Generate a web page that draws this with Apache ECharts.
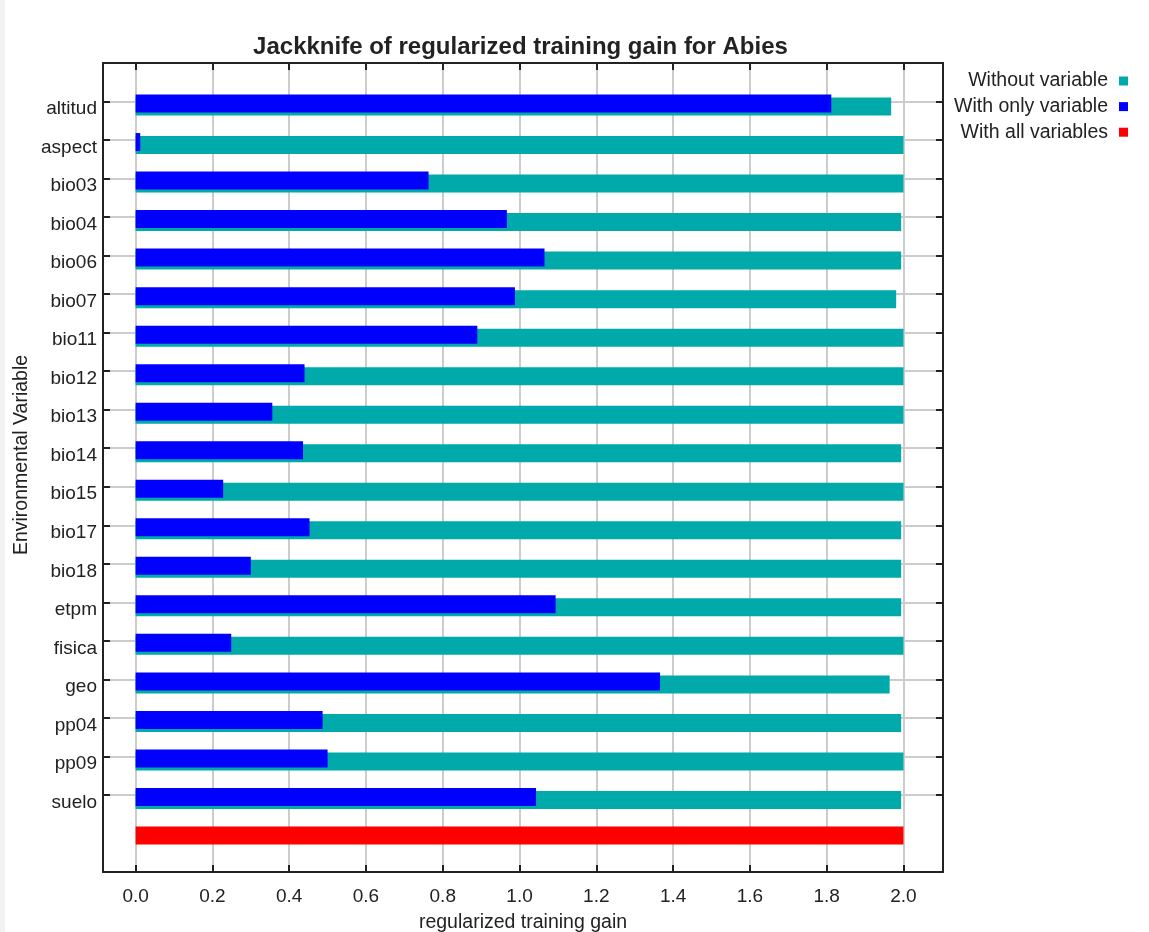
<!DOCTYPE html>
<html>
<head>
<meta charset="utf-8">
<script src="https://cdn.jsdelivr.net/npm/echarts@6/dist/echarts.min.js"></script>
<style>
  html, body { margin: 0; padding: 0; }
  body { background: linear-gradient(to right, #f2f2f2 0, #f2f2f2 5px, #ffffff 5px); }
  #chart { width: 1149px; height: 932px; }
</style>
</head>
<body>
<div id="chart"></div>
<script>
// Environmental variables tested in the jackknife
const variables = ['altitud', 'aspect', 'bio03', 'bio04', 'bio06', 'bio07', 'bio11', 'bio12', 'bio13',
  'bio14', 'bio15', 'bio17', 'bio18', 'etpm', 'fisica', 'geo', 'pp04', 'pp09', 'suelo'];

// Regularized training gain of the model built without each variable
const withoutVariable = [1.968, 2.000, 2.000, 1.994, 1.994, 1.981, 2.000, 2.000, 2.000,
  1.994, 2.000, 1.994, 1.994, 1.994, 2.000, 1.964, 1.994, 2.000, 1.994];

// Regularized training gain of the model built with only each variable
const withOnlyVariable = [1.812, 0.012, 0.763, 0.967, 1.065, 0.988, 0.890, 0.440, 0.356,
  0.436, 0.228, 0.453, 0.300, 1.094, 0.249, 1.366, 0.487, 0.500, 1.043];

// Gain of the full model
const withAllVariables = 2.000;

// Tick labels of the gain axis
const gainTicks = ['0.0', '0.2', '0.4', '0.6', '0.8', '1.0', '1.2', '1.4', '1.6', '1.8', '2.0'];

const seriesNames = ['Without variable', 'With only variable', 'With all variables'];
const colors = { without: '#00aaaa', only: '#0000ff', all: '#ff0000' };

// Row layout: blank edge row, one row per variable, the full-model row, blank edge row
const rows = [''].concat(variables, ['', '']);
const pad = (vals, extra) => ['-'].concat(vals, extra, ['-']);

const gainMin = -0.085, gainMax = 2.103;
const font = 'Liberation Sans, Arial, sans-serif';
const textColor = '#222';
const frameLine = { show: true, onZero: false, lineStyle: { color: '#222', width: 2 } };
const innerTicks = { show: true, inside: true, length: 7, lineStyle: { color: '#222', width: 2 } };
const variableRowOnly = (i) => i >= 1 && i <= variables.length;

// Plot frame; the bars sit in a twin grid whose rows hang slightly below the tick marks
const plot = { left: 103, right: 206, top: 63, bottom: 60 };
const barPlot = { left: 103, right: 206, top: 66.5, bottom: 56.5 };
const fixedGrid = { containLabel: false, outerBoundsMode: 'none' };

const chart = echarts.init(document.getElementById('chart'), null, { renderer: 'canvas' });

chart.setOption({
  animation: false,
  graphic: [{
    type: 'text',
    x: 520.5,
    y: 47,
    style: {
      text: 'Jackknife of regularized training gain for Abies',
      fontFamily: font,
      fontSize: 24,
      fontWeight: 'bold',
      fill: textColor,
      align: 'center',
      verticalAlign: 'middle'
    }
  }],
  legend: {
    data: seriesNames,
    orient: 'vertical',
    right: 16,
    top: 66,
    align: 'right',
    icon: 'rect',
    itemWidth: 9,
    itemHeight: 9,
    itemGap: 5.6,
    textStyle: { fontFamily: font, fontSize: 19.5, lineHeight: 20, color: textColor, padding: [0, 6, 0, 0] }
  },
  grid: [
    Object.assign({}, fixedGrid, plot),
    Object.assign({}, fixedGrid, barPlot)
  ],
  xAxis: [
    {
      type: 'value',
      gridIndex: 0,
      position: 'bottom',
      min: gainMin,
      max: gainMax,
      splitNumber: 11,
      axisLine: frameLine,
      axisTick: innerTicks,
      splitLine: { show: true, lineStyle: { color: '#cccccc', width: 2 } },
      axisLabel: {
        margin: 15,
        fontFamily: font,
        fontSize: 19,
        color: textColor,
        formatter: (v) => {
          const s = (Math.round(v * 10) / 10).toFixed(1);
          return Math.abs(v * 10 - Math.round(v * 10)) < 1e-6 && gainTicks.includes(s) ? s : '';
        }
      },
      name: 'regularized training gain',
      nameLocation: 'middle',
      nameGap: 41,
      nameTextStyle: { fontFamily: font, fontSize: 19.5, color: textColor }
    },
    {
      type: 'value',
      gridIndex: 0,
      position: 'top',
      min: gainMin,
      max: gainMax,
      splitNumber: 11,
      axisLine: frameLine,
      axisTick: innerTicks,
      splitLine: { show: false },
      axisLabel: { show: false }
    },
    {
      type: 'value',
      gridIndex: 1,
      show: false,
      min: gainMin,
      max: gainMax,
      splitNumber: 11
    }
  ],
  yAxis: [
    {
      type: 'category',
      gridIndex: 0,
      data: rows,
      inverse: true,
      boundaryGap: false,
      position: 'left',
      axisLine: frameLine,
      axisTick: Object.assign({}, innerTicks, { interval: variableRowOnly }),
      splitLine: { show: true, interval: variableRowOnly, lineStyle: { color: '#cccccc', width: 2 } },
      axisLabel: {
        interval: 0,
        margin: 6,
        verticalAlign: 'top',
        lineHeight: 15,
        fontFamily: font,
        fontSize: 19,
        color: textColor
      },
      name: 'Environmental Variable',
      nameLocation: 'middle',
      nameGap: 71,
      nameMoveOverlap: false,
      nameTextStyle: { fontFamily: font, fontSize: 19.5, color: textColor, padding: [0, 0, 0, 25] }
    },
    {
      type: 'category',
      gridIndex: 0,
      data: rows,
      inverse: true,
      boundaryGap: false,
      position: 'right',
      axisLine: frameLine,
      axisTick: Object.assign({}, innerTicks, { interval: variableRowOnly }),
      splitLine: { show: false },
      axisLabel: { show: false }
    },
    {
      type: 'category',
      gridIndex: 1,
      show: false,
      data: rows,
      inverse: true,
      boundaryGap: false
    }
  ],
  series: [
    {
      name: seriesNames[1],
      type: 'bar',
      xAxisIndex: 2,
      yAxisIndex: 2,
      stack: 'single',
      barWidth: 18,
      barGap: '-83.3%',
      z: 3,
      itemStyle: { color: colors.only },
      data: pad(withOnlyVariable, ['-'])
    },
    {
      name: seriesNames[0],
      type: 'bar',
      xAxisIndex: 2,
      yAxisIndex: 2,
      stack: 'without',
      barWidth: 18,
      barGap: '-83.3%',
      z: 2,
      itemStyle: { color: colors.without },
      data: pad(withoutVariable, ['-'])
    },
    {
      name: seriesNames[2],
      type: 'bar',
      xAxisIndex: 2,
      yAxisIndex: 2,
      stack: 'single',
      barWidth: 18,
      barGap: '-83.3%',
      z: 2,
      itemStyle: { color: colors.all },
      data: pad(variables.map(() => '-'), [withAllVariables])
    }
  ]
});
</script>
</body>
</html>
